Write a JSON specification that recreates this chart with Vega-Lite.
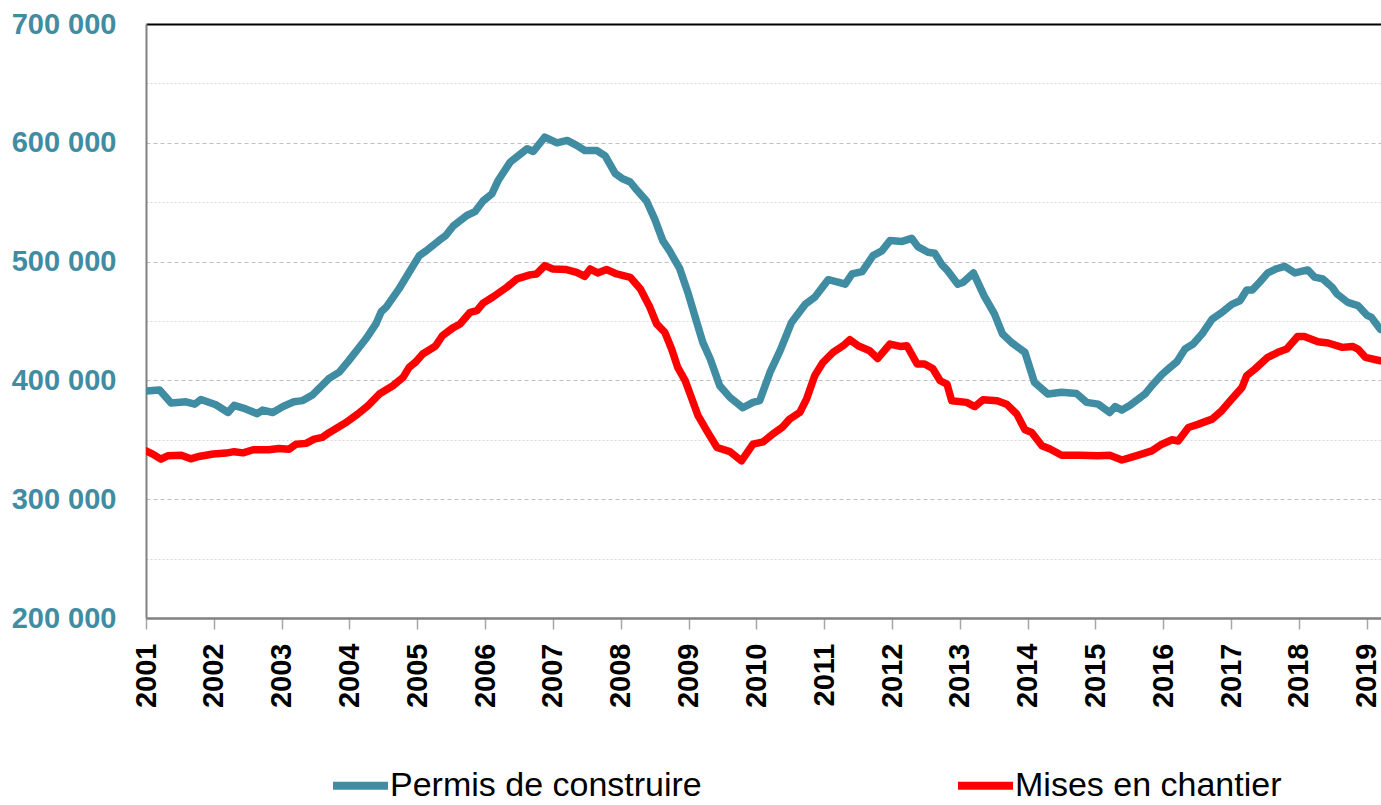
{
  "$schema": "https://vega.github.io/schema/vega-lite/v6.json",
  "width": 1235,
  "height": 594,
  "autosize": {"type": "none"},
  "padding": {"left": 146, "top": 24, "right": 0, "bottom": 187},
  "background": "white",
  "config": {"font": "Liberation Sans", "view": {"stroke": null}},
  "datasets": {
    "permis": [
      {"t": 2001.00, "v": 391000}, {"t": 2001.20, "v": 392000}, {"t": 2001.37, "v": 381000}, {"t": 2001.59, "v": 382000},
      {"t": 2001.72, "v": 380000}, {"t": 2001.81, "v": 384000}, {"t": 2002.03, "v": 379500}, {"t": 2002.21, "v": 373000},
      {"t": 2002.30, "v": 379000}, {"t": 2002.47, "v": 376000}, {"t": 2002.64, "v": 372000}, {"t": 2002.72, "v": 375000},
      {"t": 2002.87, "v": 373000}, {"t": 2003.02, "v": 378000}, {"t": 2003.18, "v": 382000}, {"t": 2003.31, "v": 383000},
      {"t": 2003.46, "v": 388000}, {"t": 2003.70, "v": 401700}, {"t": 2003.85, "v": 407000}, {"t": 2003.99, "v": 416600},
      {"t": 2004.24, "v": 434800}, {"t": 2004.39, "v": 447500}, {"t": 2004.47, "v": 457900}, {"t": 2004.54, "v": 461500},
      {"t": 2004.73, "v": 477000}, {"t": 2004.88, "v": 491000}, {"t": 2005.03, "v": 505000}, {"t": 2005.13, "v": 509000},
      {"t": 2005.32, "v": 517700}, {"t": 2005.42, "v": 522000}, {"t": 2005.53, "v": 530000}, {"t": 2005.73, "v": 538800},
      {"t": 2005.85, "v": 542000}, {"t": 2005.97, "v": 551000}, {"t": 2006.10, "v": 557000}, {"t": 2006.19, "v": 568000},
      {"t": 2006.37, "v": 583700}, {"t": 2006.62, "v": 595000}, {"t": 2006.71, "v": 592700}, {"t": 2006.88, "v": 604800},
      {"t": 2007.06, "v": 600000}, {"t": 2007.21, "v": 602000}, {"t": 2007.35, "v": 597800}, {"t": 2007.47, "v": 593500},
      {"t": 2007.65, "v": 593500}, {"t": 2007.77, "v": 589000}, {"t": 2007.92, "v": 574000}, {"t": 2008.02, "v": 570000},
      {"t": 2008.14, "v": 567000}, {"t": 2008.24, "v": 560000}, {"t": 2008.38, "v": 551000}, {"t": 2008.50, "v": 536000},
      {"t": 2008.62, "v": 517700}, {"t": 2008.72, "v": 509000}, {"t": 2008.87, "v": 494000}, {"t": 2008.99, "v": 474000},
      {"t": 2009.12, "v": 449000}, {"t": 2009.21, "v": 432000}, {"t": 2009.32, "v": 418000}, {"t": 2009.46, "v": 395500},
      {"t": 2009.61, "v": 385700}, {"t": 2009.80, "v": 377000}, {"t": 2009.95, "v": 381500}, {"t": 2010.05, "v": 383000},
      {"t": 2010.20, "v": 406700}, {"t": 2010.35, "v": 425000}, {"t": 2010.52, "v": 449000}, {"t": 2010.72, "v": 464000},
      {"t": 2010.86, "v": 470000}, {"t": 2011.06, "v": 484800}, {"t": 2011.19, "v": 483000}, {"t": 2011.31, "v": 481000},
      {"t": 2011.41, "v": 489600}, {"t": 2011.56, "v": 491600}, {"t": 2011.72, "v": 505000}, {"t": 2011.85, "v": 509000},
      {"t": 2011.97, "v": 517700}, {"t": 2012.15, "v": 517000}, {"t": 2012.29, "v": 519600}, {"t": 2012.38, "v": 512600},
      {"t": 2012.53, "v": 507900}, {"t": 2012.63, "v": 507000}, {"t": 2012.74, "v": 497000}, {"t": 2012.82, "v": 492400},
      {"t": 2012.97, "v": 481000}, {"t": 2013.05, "v": 482600}, {"t": 2013.20, "v": 490500}, {"t": 2013.36, "v": 471000},
      {"t": 2013.51, "v": 456000}, {"t": 2013.63, "v": 439000}, {"t": 2013.76, "v": 432000}, {"t": 2013.96, "v": 423600},
      {"t": 2014.10, "v": 398300}, {"t": 2014.30, "v": 388500}, {"t": 2014.50, "v": 390000}, {"t": 2014.72, "v": 389000},
      {"t": 2014.87, "v": 381500}, {"t": 2015.04, "v": 380000}, {"t": 2015.21, "v": 373000}, {"t": 2015.29, "v": 378000},
      {"t": 2015.39, "v": 375000}, {"t": 2015.51, "v": 379000}, {"t": 2015.73, "v": 388500}, {"t": 2015.83, "v": 395500},
      {"t": 2015.98, "v": 405000}, {"t": 2016.10, "v": 411000}, {"t": 2016.20, "v": 415700}, {"t": 2016.32, "v": 426400},
      {"t": 2016.44, "v": 430600}, {"t": 2016.57, "v": 439000}, {"t": 2016.72, "v": 451600}, {"t": 2016.86, "v": 457000},
      {"t": 2017.01, "v": 464000}, {"t": 2017.13, "v": 467000}, {"t": 2017.23, "v": 476000}, {"t": 2017.31, "v": 476000},
      {"t": 2017.42, "v": 482600}, {"t": 2017.54, "v": 490500}, {"t": 2017.67, "v": 494000}, {"t": 2017.79, "v": 496000},
      {"t": 2017.94, "v": 490500}, {"t": 2018.13, "v": 493000}, {"t": 2018.23, "v": 487000}, {"t": 2018.35, "v": 485400},
      {"t": 2018.49, "v": 478400}, {"t": 2018.56, "v": 472800}, {"t": 2018.72, "v": 465700}, {"t": 2018.87, "v": 463000},
      {"t": 2019.00, "v": 455000}, {"t": 2019.07, "v": 453000}, {"t": 2019.20, "v": 443000}
    ],
    "mises": [
      {"t": 2001.00, "v": 340700}, {"t": 2001.10, "v": 338000}, {"t": 2001.22, "v": 333700}, {"t": 2001.32, "v": 336500},
      {"t": 2001.52, "v": 337000}, {"t": 2001.66, "v": 334000}, {"t": 2001.78, "v": 336000}, {"t": 2001.99, "v": 338000},
      {"t": 2002.18, "v": 338800}, {"t": 2002.30, "v": 340000}, {"t": 2002.43, "v": 339000}, {"t": 2002.58, "v": 341600},
      {"t": 2002.81, "v": 341600}, {"t": 2002.96, "v": 342700}, {"t": 2003.11, "v": 342000}, {"t": 2003.21, "v": 346300},
      {"t": 2003.36, "v": 347000}, {"t": 2003.48, "v": 350600}, {"t": 2003.60, "v": 352000}, {"t": 2003.70, "v": 356000},
      {"t": 2003.95, "v": 364600}, {"t": 2004.12, "v": 371600}, {"t": 2004.27, "v": 378600}, {"t": 2004.44, "v": 388500},
      {"t": 2004.64, "v": 395500}, {"t": 2004.79, "v": 402500}, {"t": 2004.88, "v": 411000}, {"t": 2004.98, "v": 415700},
      {"t": 2005.08, "v": 422200}, {"t": 2005.27, "v": 429000}, {"t": 2005.37, "v": 437600}, {"t": 2005.52, "v": 444000},
      {"t": 2005.63, "v": 447500}, {"t": 2005.78, "v": 457300}, {"t": 2005.88, "v": 458700}, {"t": 2005.97, "v": 465000},
      {"t": 2006.11, "v": 470000}, {"t": 2006.32, "v": 478400}, {"t": 2006.47, "v": 485400}, {"t": 2006.66, "v": 488800},
      {"t": 2006.76, "v": 489600}, {"t": 2006.88, "v": 496600}, {"t": 2007.00, "v": 493800}, {"t": 2007.20, "v": 493300},
      {"t": 2007.35, "v": 491000}, {"t": 2007.47, "v": 487600}, {"t": 2007.55, "v": 493800}, {"t": 2007.66, "v": 490500},
      {"t": 2007.79, "v": 493300}, {"t": 2007.94, "v": 489600}, {"t": 2008.14, "v": 486800}, {"t": 2008.29, "v": 477000},
      {"t": 2008.43, "v": 461500}, {"t": 2008.53, "v": 447500}, {"t": 2008.65, "v": 440400}, {"t": 2008.75, "v": 426400},
      {"t": 2008.84, "v": 411000}, {"t": 2008.95, "v": 399800}, {"t": 2009.05, "v": 384300}, {"t": 2009.14, "v": 370300},
      {"t": 2009.27, "v": 357600}, {"t": 2009.42, "v": 343500}, {"t": 2009.61, "v": 340000}, {"t": 2009.78, "v": 332300},
      {"t": 2009.95, "v": 346300}, {"t": 2010.10, "v": 348300}, {"t": 2010.24, "v": 354800}, {"t": 2010.38, "v": 360400},
      {"t": 2010.49, "v": 367400}, {"t": 2010.64, "v": 373000}, {"t": 2010.74, "v": 384300}, {"t": 2010.86, "v": 404000},
      {"t": 2010.98, "v": 415000}, {"t": 2011.13, "v": 423600}, {"t": 2011.28, "v": 429200}, {"t": 2011.38, "v": 434300},
      {"t": 2011.50, "v": 429200}, {"t": 2011.67, "v": 425000}, {"t": 2011.79, "v": 418500}, {"t": 2011.97, "v": 430600},
      {"t": 2012.12, "v": 428600}, {"t": 2012.22, "v": 429200}, {"t": 2012.37, "v": 413800}, {"t": 2012.48, "v": 413800},
      {"t": 2012.60, "v": 410000}, {"t": 2012.71, "v": 399700}, {"t": 2012.81, "v": 396900}, {"t": 2012.88, "v": 382900},
      {"t": 2013.10, "v": 381500}, {"t": 2013.22, "v": 378000}, {"t": 2013.34, "v": 383700}, {"t": 2013.55, "v": 382900},
      {"t": 2013.69, "v": 380000}, {"t": 2013.84, "v": 371600}, {"t": 2013.96, "v": 358400}, {"t": 2014.06, "v": 356200},
      {"t": 2014.21, "v": 345000}, {"t": 2014.33, "v": 342300}, {"t": 2014.50, "v": 337000}, {"t": 2014.78, "v": 337000},
      {"t": 2015.04, "v": 336500}, {"t": 2015.21, "v": 337000}, {"t": 2015.39, "v": 333000}, {"t": 2015.51, "v": 335000},
      {"t": 2015.68, "v": 338000}, {"t": 2015.83, "v": 340700}, {"t": 2015.98, "v": 346300}, {"t": 2016.13, "v": 350000},
      {"t": 2016.22, "v": 349000}, {"t": 2016.37, "v": 360300}, {"t": 2016.51, "v": 363000}, {"t": 2016.72, "v": 367400},
      {"t": 2016.86, "v": 374400}, {"t": 2017.01, "v": 384300}, {"t": 2017.16, "v": 394000}, {"t": 2017.23, "v": 404000},
      {"t": 2017.35, "v": 409500}, {"t": 2017.54, "v": 419400}, {"t": 2017.69, "v": 423600}, {"t": 2017.82, "v": 426400},
      {"t": 2017.98, "v": 437000}, {"t": 2018.08, "v": 437000}, {"t": 2018.28, "v": 432600}, {"t": 2018.43, "v": 431500},
      {"t": 2018.64, "v": 427800}, {"t": 2018.79, "v": 428600}, {"t": 2018.87, "v": 426400}, {"t": 2018.98, "v": 419400},
      {"t": 2019.20, "v": 416500}
    ]
  },
  "layer": [
    {
      "data": {"name": "permis"},
      "mark": {"type": "line", "strokeWidth": 7.5, "strokeJoin": "round", "strokeCap": "round", "clip": true},
      "encoding": {
        "x": {
          "field": "t", "type": "quantitative",
          "scale": {"domain": [2001, 2019.21], "nice": false, "zero": false},
          "axis": {
            "orient": "bottom",
            "values": [2001, 2002, 2003, 2004, 2005, 2006, 2007, 2008, 2009, 2010, 2011, 2012, 2013, 2014, 2015, 2016, 2017, 2018, 2019],
            "format": "d", "labelAngle": -90, "labelFont": "Liberation Sans", "labelFontSize": 29, "labelFontWeight": "bold",
            "labelColor": "#000000", "labelPadding": 14, "labelOverlap": false, "labelFlush": false, "labelBound": false,
            "tickSize": 11, "tickColor": "#A6A6A6", "tickWidth": 1.5,
            "domainColor": "#808080", "domainWidth": 2.5, "grid": false, "title": null
          }
        },
        "y": {
          "field": "v", "type": "quantitative",
          "scale": {"domain": [200000, 700000], "nice": false, "zero": false},
          "axis": {
            "values": [200000, 250000, 300000, 350000, 400000, 450000, 500000, 550000, 600000, 650000, 700000],
            "labelExpr": "datum.value % 100000 === 0 ? format(datum.value / 1000, 'd') + ' 000' : ''",
            "labelFont": "Liberation Sans", "labelFontSize": 29, "labelFontWeight": "bold", "labelColor": "#3F8CA3",
            "labelPadding": 30, "labelOverlap": false, "ticks": false,
            "domainColor": "#808080", "domainWidth": 2, "title": null,
            "grid": true,
            "gridColor": {"condition": {"test": "datum.value % 100000 === 0", "value": "#BFBFBF"}, "value": "#D9D9D9"},
            "gridDash": {"condition": {"test": "datum.value % 100000 === 0", "value": [4, 3]}, "value": [2, 2]},
            "gridOpacity": {"condition": {"test": "datum.value >= 700000 || datum.value <= 200000", "value": 0}, "value": 1},
            "gridWidth": 1.2
          }
        },
        "color": {
          "datum": "Permis de construire", "type": "nominal",
          "scale": {"domain": ["Permis de construire", "Mises en chantier"], "range": ["#3F8CA3", "#FF0000"]},
          "legend": {
            "orient": "none", "legendX": 183, "legendY": 730, "direction": "horizontal", "title": null,
            "symbolType": "stroke", "symbolSize": 3025, "symbolStrokeWidth": 8,
            "labelFont": "Liberation Sans", "labelFontSize": 34, "labelColor": "#000000", "labelOffset": -2,
            "columnPadding": 240, "padding": 0, "labelLimit": 0
          }
        }
      }
    },
    {
      "data": {"name": "mises"},
      "mark": {"type": "line", "strokeWidth": 7.5, "strokeJoin": "round", "strokeCap": "round", "clip": true},
      "encoding": {
        "x": {
          "field": "t", "type": "quantitative",
          "axis": {"orient": "top", "labels": false, "ticks": false, "grid": false, "domainColor": "#000000", "domainWidth": 2, "title": null}
        },
        "y": {"field": "v", "type": "quantitative"},
        "color": {"datum": "Mises en chantier", "type": "nominal"}
      }
    }
  ],
  "resolve": {"axis": {"x": "independent"}}
}
